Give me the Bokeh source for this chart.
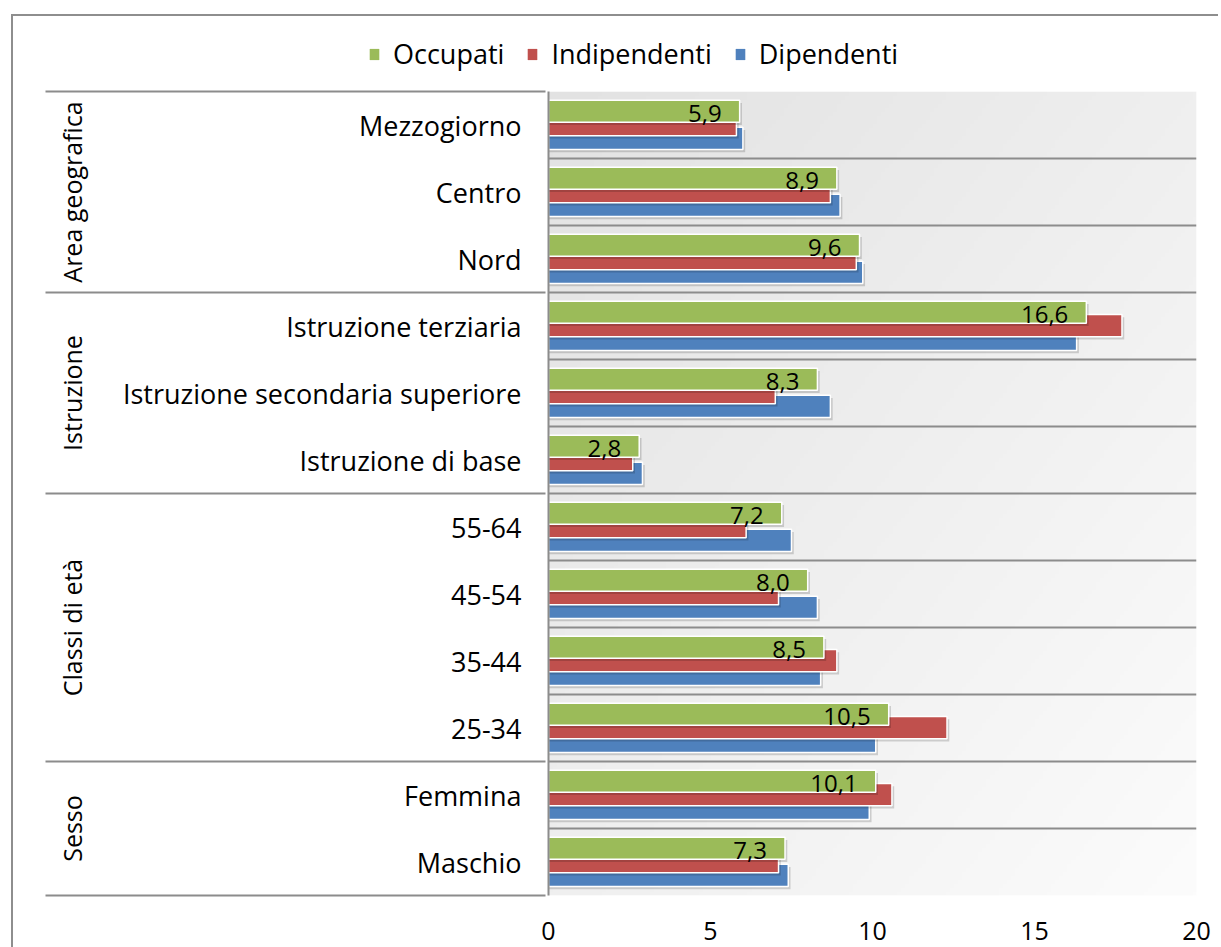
import numpy as np
from bokeh.plotting import figure
from bokeh.models import (Range1d, LinearAxis, FixedTicker, Legend, LegendItem, ColumnDataSource)
from bokeh.transform import dodge
from bokeh.core.properties import value
from bokeh.layouts import column
from bokeh.embed import file_html
from bokeh.resources import INLINE

# ---------------- data (bottom to top) ----------------
categories = ["Maschio", "Femmina", "25-34", "35-44", "45-54", "55-64",
              "Istruzione di base", "Istruzione secondaria superiore", "Istruzione terziaria",
              "Nord", "Centro", "Mezzogiorno"]
occupati = [7.3, 10.1, 10.5, 8.5, 8.0, 7.2, 2.8, 8.3, 16.6, 9.6, 8.9, 5.9]
indipendenti = [7.1, 10.6, 12.3, 8.9, 7.1, 6.1, 2.6, 7.0, 17.7, 9.5, 8.7, 5.8]
dipendenti = [7.4, 9.9, 10.1, 8.4, 8.3, 7.5, 2.9, 8.7, 16.3, 9.7, 9.0, 6.0]
groups = ["Sesso", "Classi di età", "Istruzione", "Area geografica"]
group_sizes = [2, 4, 3, 3]
x_ticks = [0, 5, 10, 15, 20]
series_names = ["Occupati", "Indipendenti", "Dipendenti"]
series_fields = ["occ", "ind", "dip"]
series_colors = ["#9bbb59", "#c0504d", "#4f81bd"]

FONT = "Open Sans"
GRID_COLOR = "#8c8c8c"

n = len(categories)
pos = [i + 0.5 for i in range(n)]
bounds = [0]
for s in group_sizes:
    bounds.append(bounds[-1] + s)
centers = [(bounds[i] + bounds[i + 1]) / 2 for i in range(len(group_sizes))]

src = ColumnDataSource(dict(
    pos=pos, cat=categories, occ=occupati, ind=indipendenti, dip=dipendenti,
    lbl=[f"{v:.1f}".replace(".", ",") for v in occupati],
))

W = 1205
LH, MH = 73, 858

# ---------------- legend strip (its own ranges keep the bars out of view) ----------------
fl = figure(width=W, height=LH, x_range=Range1d(0, 1), y_range=Range1d(n + 1, n + 2),
            output_backend="svg", toolbar_location=None, x_axis_type=None, y_axis_type=None,
            min_border=0)
fl.frame_align = False
fl.outline_line_color = None
fl.xgrid.visible = False
fl.ygrid.visible = False
leg_r = [fl.hbar(y="pos", right=f, left=0, height=0.3, source=src,
                 fill_color=c, line_color=None) for f, c in zip(series_fields, series_colors)]
legend = Legend(items=[LegendItem(label=nm, renderers=[r]) for nm, r in zip(series_names, leg_r)],
                orientation="horizontal", location=(355, 17))
legend.label_text_font = FONT
legend.label_text_font_size = "27px"
legend.label_text_color = "black"
legend.glyph_width = 12
legend.glyph_height = 14
legend.label_standoff = 13
legend.spacing = 22
legend.padding = 0
legend.margin = 0
legend.border_line_color = None
legend.background_fill_alpha = 0
fl.add_layout(legend)

# ---------------- main chart ----------------
p = figure(width=W, height=MH, y_range=Range1d(0, n), x_range=Range1d(0, 20),
           output_backend="svg", toolbar_location=None,
           min_border_left=535, min_border_right=22, min_border_top=2, min_border_bottom=52)
p.frame_align = False
p.outline_line_color = None
p.background_fill_color = "white"
p.border_fill_color = "white"
p.xgrid.visible = False

# gradient background of plot area
nx, ny = 160, 200
xx, yy = np.meshgrid(np.linspace(0, 1, nx), np.linspace(0, 1, ny))
t = (xx + (1 - yy)) / 2
g = (226 + 26 * t).astype(np.uint8)
img = np.empty((ny, nx), dtype=np.uint32)
view = img.view(dtype=np.uint8).reshape((ny, nx, 4))
view[:, :, 0] = g
view[:, :, 1] = g
view[:, :, 2] = g
view[:, :, 3] = 255
p.image_rgba(image=[img], x=0, y=0, dw=20, dh=n, level="image")

# horizontal grid lines at category boundaries
p.ygrid.ticker = FixedTicker(ticks=list(range(n + 1)))
p.ygrid.grid_line_color = GRID_COLOR
p.ygrid.grid_line_width = 2

# bars (drawn bottom series first so green is on top)
offsets = {"dip": -0.2, "ind": 0.005, "occ": 0.205}
order = [("dip", 2), ("ind", 1), ("occ", 0)]
for field, idx in order:
    off = offsets[field]
    p.hbar(y=dodge("pos", off - 0.04), left=0, right=dodge(field, 0.07),
           height=0.33, source=src, fill_color="black", fill_alpha=0.16, line_color=None)
    p.hbar(y=dodge("pos", off), left=0, right=field,
           height=0.33, source=src, fill_color=series_colors[idx],
           line_color="white", line_width=1.5)

# data labels for Occupati
p.text(x="occ", y=dodge("pos", offsets["occ"]), text="lbl", source=src,
       text_align="right", text_baseline="middle", x_offset=-18, y_offset=2,
       text_font=value(FONT), text_font_size="24px", text_color="black")

# category axis (left, closest to frame)
yax = p.yaxis[0]
yax.ticker = FixedTicker(ticks=pos)
yax.major_label_overrides = {pp: c for pp, c in zip(pos, categories)}
yax.axis_line_color = GRID_COLOR
yax.axis_line_width = 2
yax.major_tick_out = 0
yax.major_tick_in = 0
yax.minor_tick_out = 0
yax.minor_tick_in = 0
yax.major_label_standoff = 27
yax.major_label_text_font = FONT
yax.major_label_text_font_size = "27px"
yax.major_label_text_color = "black"

# group axis (further left) with separators as minor ticks
gax = LinearAxis(ticker=FixedTicker(ticks=centers, minor_ticks=bounds),
                 major_label_overrides={float(c): gname for c, gname in zip(centers, groups)},
                 major_label_orientation="vertical")
gax.axis_line_color = None
gax.major_tick_out = 0
gax.major_tick_in = 0
gax.minor_tick_out = 74
gax.minor_tick_in = 426
gax.minor_tick_line_color = GRID_COLOR
gax.minor_tick_line_width = 2
gax.major_label_standoff = -43
gax.major_label_text_font = FONT
gax.major_label_text_font_size = "25px"
gax.major_label_text_color = "black"
p.add_layout(gax, "left")

# x axis
xax = p.xaxis[0]
xax.ticker = FixedTicker(ticks=x_ticks)
xax.axis_line_color = None
xax.major_tick_out = 0
xax.major_tick_in = 0
xax.minor_tick_out = 0
xax.minor_tick_in = 0
xax.major_label_standoff = 26
xax.major_label_text_font = FONT
xax.major_label_text_font_size = "25px"
xax.major_label_text_color = "black"

lay = column(fl, p, margin=(14, 0, 0, 11), spacing=0,
             styles={"border-left": "2px solid #8e8e8e", "border-top": "2px solid #8e8e8e"})

open("out.html", "w").write(file_html(lay, INLINE))
